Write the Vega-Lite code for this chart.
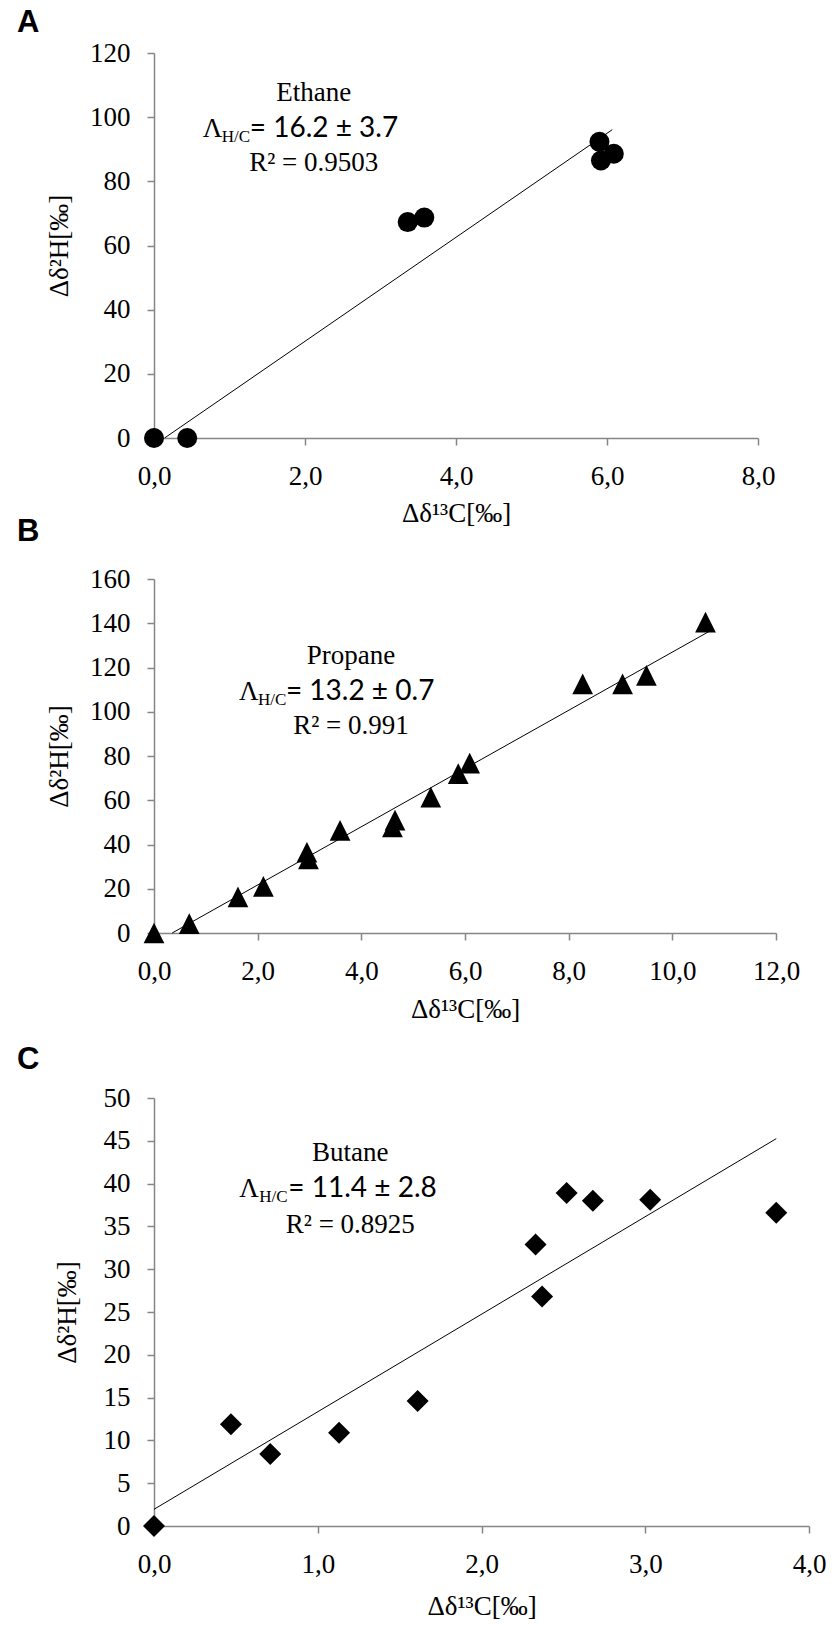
{
  "$schema": "https://vega.github.io/schema/vega-lite/v6.json",
  "background": "white",
  "padding": {"left": 17, "top": 7, "right": 5, "bottom": 3},
  "spacing": -10,
  "datasets": {
    "ethane": [
      {"dC": 0.0, "dH": 0.0},
      {"dC": 0.44, "dH": 0.0},
      {"dC": 3.36, "dH": 67.3},
      {"dC": 3.58, "dH": 68.7},
      {"dC": 5.9, "dH": 92.3},
      {"dC": 6.09, "dH": 88.6},
      {"dC": 5.92, "dH": 86.5}
    ],
    "ethane_fit": [
      {"dC": 0.14, "dH": 0.0},
      {"dC": 6.07, "dH": 96.1}
    ],
    "ethane_txt": [
      {"dC": 2.116, "dH": 93.9, "name": "Ethane", "val": "= 16.2 ± 3.7", "r2": "R² = 0.9503"}
    ],
    "propane": [
      {"dC": 0.0, "dH": 0.0},
      {"dC": 0.68, "dH": 4.2},
      {"dC": 1.62, "dH": 16.3},
      {"dC": 2.11, "dH": 21.1},
      {"dC": 2.95, "dH": 36.5},
      {"dC": 2.98, "dH": 33.5},
      {"dC": 3.59, "dH": 46.4},
      {"dC": 4.6, "dH": 48.0},
      {"dC": 4.65, "dH": 51.0},
      {"dC": 5.34, "dH": 61.4},
      {"dC": 5.87, "dH": 72.0},
      {"dC": 6.09, "dH": 76.8},
      {"dC": 8.27, "dH": 112.6},
      {"dC": 9.04, "dH": 112.6},
      {"dC": 9.5, "dH": 116.4},
      {"dC": 10.64, "dH": 140.5}
    ],
    "propane_fit": [
      {"dC": 0.35, "dH": 0.0},
      {"dC": 10.74, "dH": 136.7}
    ],
    "propane_txt": [
      {"dC": 3.8, "dH": 105.1, "name": "Propane", "val": "= 13.2 ± 0.7", "r2": "R² = 0.991"}
    ],
    "butane": [
      {"dC": 0.0, "dH": 0.0},
      {"dC": 0.47, "dH": 11.9},
      {"dC": 0.71, "dH": 8.4},
      {"dC": 1.13, "dH": 10.9},
      {"dC": 1.61, "dH": 14.6},
      {"dC": 2.33, "dH": 32.9},
      {"dC": 2.37, "dH": 26.8},
      {"dC": 2.52, "dH": 38.9},
      {"dC": 2.68, "dH": 38.0},
      {"dC": 3.03, "dH": 38.1},
      {"dC": 3.8, "dH": 36.6}
    ],
    "butane_fit": [
      {"dC": 0.0, "dH": 1.95},
      {"dC": 3.8, "dH": 45.25}
    ],
    "butane_txt": [
      {"dC": 1.199, "dH": 38.4, "name": "Butane", "val": "= 11.4 ± 2.8", "r2": "R² = 0.8925"}
    ]
  },
  "vconcat": [
    {
      "title": {"text": "A", "dx": -137, "offset": 0},
      "width": 604,
      "height": 385,
      "encoding": {
        "x": {"field": "dC", "type": "quantitative",
          "scale": {"domain": [0, 8], "nice": false, "zero": false},
          "axis": {"title": "Δδ¹³C[‰]", "values": [0, 2, 4, 6, 8], "titleY": 83, "format": ".1f", "labelFont": "Liberation Serif", "labelFontSize": 27, "titleFont": "Liberation Serif", "titleFontSize": 27}},
        "y": {"field": "dH", "type": "quantitative",
          "scale": {"domain": [0, 120], "nice": false},
          "axis": {"title": "Δδ²H[‰]", "values": [0, 20, 40, 60, 80, 100, 120], "format": "d", "titleX": -87, "labelFont": "Liberation Serif", "labelFontSize": 27, "titleFont": "Liberation Serif", "titleFontSize": 27}}
      },
      "layer": [
        {"data": {"name": "ethane_fit"}, "mark": {"type": "line", "color": "#000", "strokeWidth": 1}},
        {"data": {"name": "ethane"}, "mark": {"type": "point", "shape": "circle", "filled": true, "color": "#000", "opacity": 1, "size": 400}},
        {"data": {"name": "ethane_txt"}, "mark": {"type": "text", "dy": -36, "align": "center", "baseline": "alphabetic", "font": "Liberation Serif", "fontSize": 27}, "encoding": {"text": {"field": "name"}}},
        {"data": {"name": "ethane_txt"}, "mark": {"type": "text", "text": "Λ", "dx": -111, "align": "left", "baseline": "alphabetic", "font": "Liberation Serif", "fontSize": 27}},
        {"data": {"name": "ethane_txt"}, "mark": {"type": "text", "text": "H/C", "dx": -92, "dy": 5, "align": "left", "baseline": "alphabetic", "font": "Liberation Serif", "fontSize": 17}},
        {"data": {"name": "ethane_txt"}, "mark": {"type": "text", "dx": -64, "align": "left", "baseline": "alphabetic", "font": "Lato", "fontSize": 28}, "encoding": {"text": {"field": "val"}}},
        {"data": {"name": "ethane_txt"}, "mark": {"type": "text", "dy": 34, "align": "center", "baseline": "alphabetic", "font": "Liberation Serif", "fontSize": 27}, "encoding": {"text": {"field": "r2"}}}
      ]
    },
    {
      "spacing": 22,
      "vconcat": [
        {
          "title": {"text": "B", "dx": -137, "offset": 17},
          "width": 622,
          "height": 354,
          "encoding": {
            "x": {"field": "dC", "type": "quantitative",
              "scale": {"domain": [0, 12], "nice": false, "zero": false},
              "axis": {"title": "Δδ¹³C[‰]", "values": [0, 2, 4, 6, 8, 10, 12], "titleY": 84, "format": ".1f", "labelFont": "Liberation Serif", "labelFontSize": 27, "titleFont": "Liberation Serif", "titleFontSize": 27}},
            "y": {"field": "dH", "type": "quantitative",
              "scale": {"domain": [0, 160], "nice": false},
              "axis": {"title": "Δδ²H[‰]", "values": [0, 20, 40, 60, 80, 100, 120, 140, 160], "format": "d", "titleX": -87, "labelFont": "Liberation Serif", "labelFontSize": 27, "titleFont": "Liberation Serif", "titleFontSize": 27}}
          },
          "layer": [
            {"data": {"name": "propane_fit"}, "mark": {"type": "line", "color": "#000", "strokeWidth": 1}},
            {"data": {"name": "propane"}, "mark": {"type": "point", "shape": "M0,-1L1,1L-1,1Z", "filled": true, "color": "#000", "opacity": 1, "size": 430}},
            {"data": {"name": "propane_txt"}, "mark": {"type": "text", "dy": -36, "align": "center", "baseline": "alphabetic", "font": "Liberation Serif", "fontSize": 27}, "encoding": {"text": {"field": "name"}}},
            {"data": {"name": "propane_txt"}, "mark": {"type": "text", "text": "Λ", "dx": -112, "align": "left", "baseline": "alphabetic", "font": "Liberation Serif", "fontSize": 27}},
            {"data": {"name": "propane_txt"}, "mark": {"type": "text", "text": "H/C", "dx": -93, "dy": 5, "align": "left", "baseline": "alphabetic", "font": "Liberation Serif", "fontSize": 17}},
            {"data": {"name": "propane_txt"}, "mark": {"type": "text", "dx": -65, "align": "left", "baseline": "alphabetic", "font": "Lato", "fontSize": 28}, "encoding": {"text": {"field": "val"}}},
            {"data": {"name": "propane_txt"}, "mark": {"type": "text", "dy": 34, "align": "center", "baseline": "alphabetic", "font": "Liberation Serif", "fontSize": 27}, "encoding": {"text": {"field": "r2"}}}
          ]
        },
        {
          "title": {"text": "C", "dx": -137, "offset": 8},
          "width": 655,
          "height": 428,
          "encoding": {
            "x": {"field": "dC", "type": "quantitative",
              "scale": {"domain": [0, 4], "nice": false, "zero": false},
              "axis": {"title": "Δδ¹³C[‰]", "values": [0, 1, 2, 3, 4], "titleY": 88, "format": ".1f", "labelFont": "Liberation Serif", "labelFontSize": 27, "titleFont": "Liberation Serif", "titleFontSize": 27}},
            "y": {"field": "dH", "type": "quantitative",
              "scale": {"domain": [0, 50], "nice": false},
              "axis": {"title": "Δδ²H[‰]", "values": [0, 5, 10, 15, 20, 25, 30, 35, 40, 45, 50], "format": "d", "titleX": -79, "labelFont": "Liberation Serif", "labelFontSize": 27, "titleFont": "Liberation Serif", "titleFontSize": 27}}
          },
          "layer": [
            {"data": {"name": "butane_fit"}, "mark": {"type": "line", "color": "#000", "strokeWidth": 1}},
            {"data": {"name": "butane"}, "mark": {"type": "point", "shape": "diamond", "filled": true, "color": "#000", "opacity": 1, "size": 484}},
            {"data": {"name": "butane_txt"}, "mark": {"type": "text", "dy": -36, "align": "center", "baseline": "alphabetic", "font": "Liberation Serif", "fontSize": 27}, "encoding": {"text": {"field": "name"}}},
            {"data": {"name": "butane_txt"}, "mark": {"type": "text", "text": "Λ", "dx": -111, "align": "left", "baseline": "alphabetic", "font": "Liberation Serif", "fontSize": 27}},
            {"data": {"name": "butane_txt"}, "mark": {"type": "text", "text": "H/C", "dx": -91, "dy": 5, "align": "left", "baseline": "alphabetic", "font": "Liberation Serif", "fontSize": 17}},
            {"data": {"name": "butane_txt"}, "mark": {"type": "text", "dx": -62, "align": "left", "baseline": "alphabetic", "font": "Lato", "fontSize": 28}, "encoding": {"text": {"field": "val"}}},
            {"data": {"name": "butane_txt"}, "mark": {"type": "text", "dy": 36, "align": "center", "baseline": "alphabetic", "font": "Liberation Serif", "fontSize": 27}, "encoding": {"text": {"field": "r2"}}}
          ]
        }
      ]
    }
  ],
  "config": {
    "locale": {"number": {"decimal": ",", "thousands": ".", "grouping": [3], "currency": ["", " €"]}},
    "view": {"stroke": null},
    "font": "Liberation Serif",
    "axis": {
      "grid": false,
      "domainColor": "#868686",
      "tickColor": "#868686",
      "domainWidth": 1.5,
      "tickWidth": 1.5,
      "tickSize": 7,
      "labelColor": "#000",
      "labelFlush": false,
      "labelOverlap": false,
      "titleFontWeight": "normal",
      "titleColor": "#000"
    },
    "axisX": {"labelBaseline": "alphabetic", "labelPadding": 39, "titleBaseline": "alphabetic"},
    "axisY": {"labelPadding": 17, "titleBaseline": "alphabetic"},
    "title": {"font": "Liberation Sans", "fontSize": 31, "fontWeight": "bold", "anchor": "start", "frame": "group", "baseline": "alphabetic", "color": "#000"}
  }
}
